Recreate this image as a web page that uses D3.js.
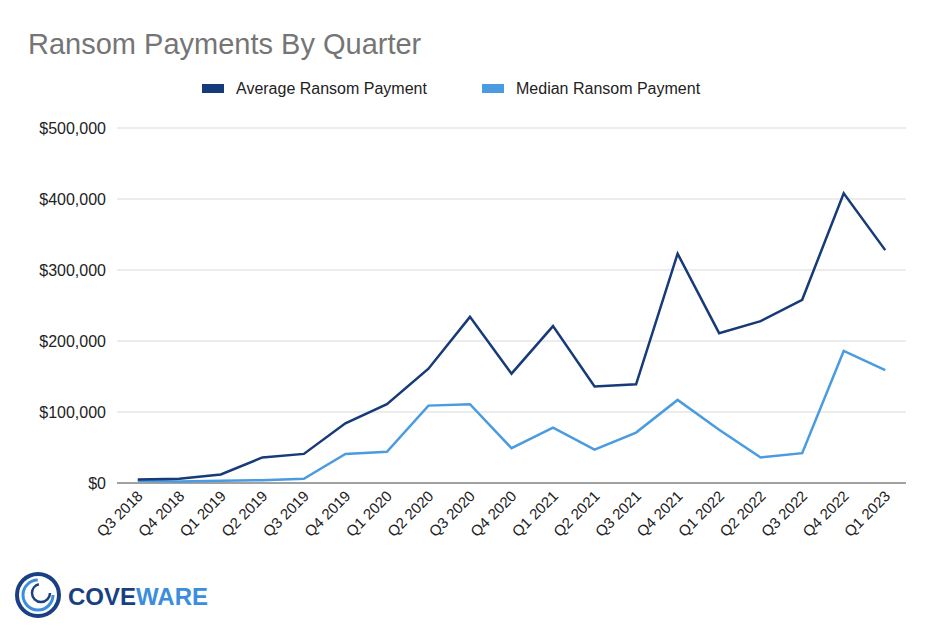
<!DOCTYPE html><html><head><meta charset="utf-8"><script src="https://cdn.jsdelivr.net/npm/d3@7"></script>
<style>body{margin:0;background:#fff}</style></head><body><svg id="c" width="936" height="638"></svg>
<script>
const categories=["Q3 2018","Q4 2018","Q1 2019","Q2 2019","Q3 2019","Q4 2019","Q1 2020","Q2 2020","Q3 2020","Q4 2020","Q1 2021","Q2 2021","Q3 2021","Q4 2021","Q1 2022","Q2 2022","Q3 2022","Q4 2022","Q1 2023"];
const average=[5000,6000,12000,36000,41000,84000,111000,161000,234000,154000,221000,136000,139000,323000,211000,228000,258000,408000,328000];
const median=[3000,2000,3000,4000,6000,41000,44000,109000,111000,49000,78000,47000,71000,117000,75000,36000,42000,186000,159000];
const yTicks=[0,100000,200000,300000,400000,500000];
const svg=d3.select("#c");
const L=117,R=906,T=128,B=483;
const x=d3.scaleBand().domain(categories).range([L,R]);
const y=d3.scaleLinear().domain([0,500000]).range([B,T]);
const f="Arial, Liberation Sans, sans-serif";
svg.append("text").attr("x",28).attr("y",54).attr("font-family",f).attr("font-size",29).attr("fill","#757575").text("Ransom Payments By Quarter");
svg.selectAll(".g").data(yTicks).join("line").attr("x1",L).attr("x2",R).attr("y1",d=>y(d)).attr("y2",d=>y(d)).attr("stroke",d=>d===0?"#444":"#d9d9d9").attr("stroke-width",1);
svg.selectAll(".yl").data(yTicks).join("text").attr("x",106).attr("y",d=>y(d)+6).attr("text-anchor","end").attr("font-family",f).attr("font-size",16).attr("fill","#222").text(d=>"$"+d3.format(",")(d));
svg.selectAll(".xl").data(categories).join("text").attr("transform",d=>`translate(${x(d)+x.bandwidth()/2+6},${B+14}) rotate(-45)`).attr("text-anchor","end").attr("font-family",f).attr("font-size",15).attr("fill","#222").text(d=>d);
const line=d3.line().x((d,i)=>x(categories[i])+x.bandwidth()/2).y(d=>y(d));
svg.append("path").attr("d",line(median)).attr("fill","none").attr("stroke","#4a9be0").attr("stroke-width",2.5);
svg.append("path").attr("d",line(average)).attr("fill","none").attr("stroke","#173a78").attr("stroke-width",2.5);
const leg=[["Average Ransom Payment","#173a78",202],["Median Ransom Payment","#4a9be0",482]];
leg.forEach(([t,c,lx])=>{svg.append("rect").attr("x",lx).attr("y",84).attr("width",22).attr("height",9).attr("fill",c);
svg.append("text").attr("x",lx+34).attr("y",94).attr("font-family",f).attr("font-size",16).attr("fill","#222").text(t);});
const g=svg.append("g").attr("transform","translate(38,595)");
g.append("circle").attr("r",21).attr("fill","none").attr("stroke","#1a3f82").attr("stroke-width",4);
g.append("circle").attr("r",15).attr("fill","none").attr("stroke","#3b8de0").attr("stroke-width",3).attr("stroke-dasharray","70 30");
g.append("circle").attr("cx",3).attr("cy",-2).attr("r",9).attr("fill","none").attr("stroke","#1a3f82").attr("stroke-width",2.5).attr("stroke-dasharray","40 20");
svg.append("text").attr("x",68).attr("y",605).attr("font-family","'Liberation Sans Narrow', Arial, sans-serif").attr("font-weight","bold").attr("font-size",24).attr("fill","#1a3f82").text("COVE").append("tspan").attr("fill","#3b8de0").text("WARE");
</script></body></html>
